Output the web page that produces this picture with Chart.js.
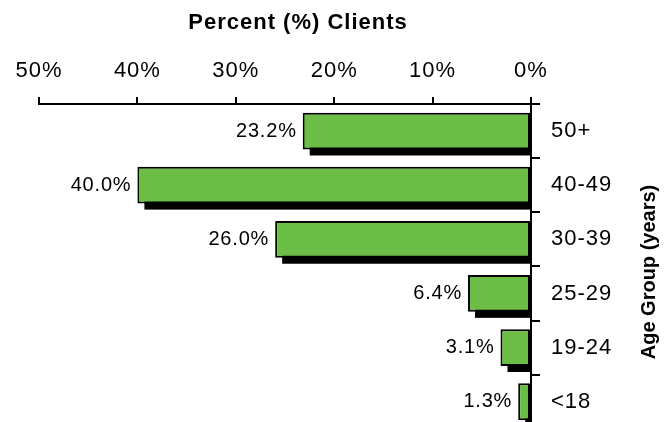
<!DOCTYPE html>
<html>
<head>
<meta charset="utf-8">
<script src="https://cdn.jsdelivr.net/npm/chart.js@4.4.1/dist/chart.umd.min.js"></script>
<style>
  html, body { margin: 0; padding: 0; background: #fff; overflow: hidden; }
  #wrap { position: relative; width: 667px; height: 453px; }
</style>
</head>
<body>
<div id="wrap"><canvas id="c"></canvas></div>
<script>
const categories = ['50+', '40-49', '30-39', '25-29', '19-24', '<18'];
const percentClients = [23.2, 40.0, 26.0, 6.4, 3.1, 1.3];
const xTickValues = [0, 10, 20, 30, 40, 50];
const xAxisTitle = 'Percent (%) Clients';
const yAxisTitle = 'Age Group (years)';

const FONT = "'Liberation Sans', Arial, sans-serif";

const spacingPlugin = {
  id: 'spacing',
  beforeDraw(chart) { chart.ctx.letterSpacing = '1px'; }
};

const shadowPlugin = {
  id: 'shadow',
  beforeDatasetsDraw(chart) {
    const ctx = chart.ctx;
    const area = chart.chartArea;
    const meta = chart.getDatasetMeta(0);
    ctx.save();
    ctx.beginPath();
    ctx.rect(area.left, area.top, area.right - area.left, area.bottom - area.top);
    ctx.clip();
    ctx.fillStyle = '#000';
    meta.data.forEach(el => {
      const p = el.getProps(['x', 'y', 'base', 'height'], true);
      const left = Math.min(p.x, p.base) + 7;
      const top = p.y - p.height / 2 + 6;
      ctx.fillRect(left, top, area.right - left, p.height);
    });
    ctx.restore();
  }
};

const labelPlugin = {
  id: 'valueLabels',
  afterDatasetsDraw(chart) {
    const ctx = chart.ctx;
    const meta = chart.getDatasetMeta(0);
    ctx.save();
    ctx.letterSpacing = '0.8px';
    ctx.font = '20px ' + FONT;
    ctx.fillStyle = '#000';
    ctx.textAlign = 'right';
    ctx.textBaseline = 'middle';
    meta.data.forEach((el, i) => {
      const p = el.getProps(['x', 'y'], true);
      ctx.fillText(percentClients[i].toFixed(1) + '%', p.x - 6, p.y);
    });
    ctx.restore();
  }
};

const titlesPlugin = {
  id: 'titles',
  afterDraw(chart) {
    const ctx = chart.ctx;
    ctx.save();
    ctx.fillStyle = '#000';
    ctx.letterSpacing = '1px';
    ctx.font = 'bold 22px ' + FONT;
    ctx.textAlign = 'center';
    ctx.textBaseline = 'middle';
    ctx.fillText(xAxisTitle, 298, 23);
    ctx.letterSpacing = '0px';
    ctx.font = 'bold 20px ' + FONT;
    ctx.translate(649, 272);
    ctx.rotate(-Math.PI / 2);
    ctx.fillText(yAxisTitle, 0, 0);
    ctx.restore();
  }
};

new Chart(document.getElementById('c'), {
  type: 'bar',
  data: {
    labels: categories,
    datasets: [{
      data: percentClients,
      backgroundColor: '#6cbd45',
      borderColor: '#000',
      borderWidth: 2,
      borderSkipped: false,
      categoryPercentage: 1,
      barPercentage: 0.68
    }]
  },
  options: {
    indexAxis: 'y',
    responsive: true,
    maintainAspectRatio: false,
    animation: false,
    events: [],
    layout: { padding: { left: 39, top: 0, right: 0, bottom: 0 } },
    plugins: { legend: { display: false }, tooltip: { enabled: false } },
    scales: {
      x: {
        type: 'linear',
        position: 'top',
        reverse: true,
        min: 0,
        max: 50,
        afterBuildTicks(scale) { scale.ticks = xTickValues.map(v => ({ value: v })); },
        afterFit(scale) { scale.height = 104; },
        ticks: {
          callback: v => v + '%',
          color: '#000',
          font: { family: FONT, size: 22 },
          padding: 13,
          maxRotation: 0
        },
        grid: { drawOnChartArea: false, drawTicks: true, tickLength: 7, color: '#000', lineWidth: 2 },
        border: { display: true, color: '#000', width: 2 }
      },
      y: {
        position: 'right',
        afterFit(scale) { scale.width = 136; },
        ticks: {
          color: '#000',
          font: { family: FONT, size: 22 },
          padding: 11
        },
        grid: { offset: true, drawOnChartArea: false, drawTicks: true, tickLength: 9, color: '#000', lineWidth: 2 },
        border: { display: true, color: '#000', width: 2 }
      }
    }
  },
  plugins: [spacingPlugin, shadowPlugin, labelPlugin, titlesPlugin]
});
</script>
</body>
</html>
